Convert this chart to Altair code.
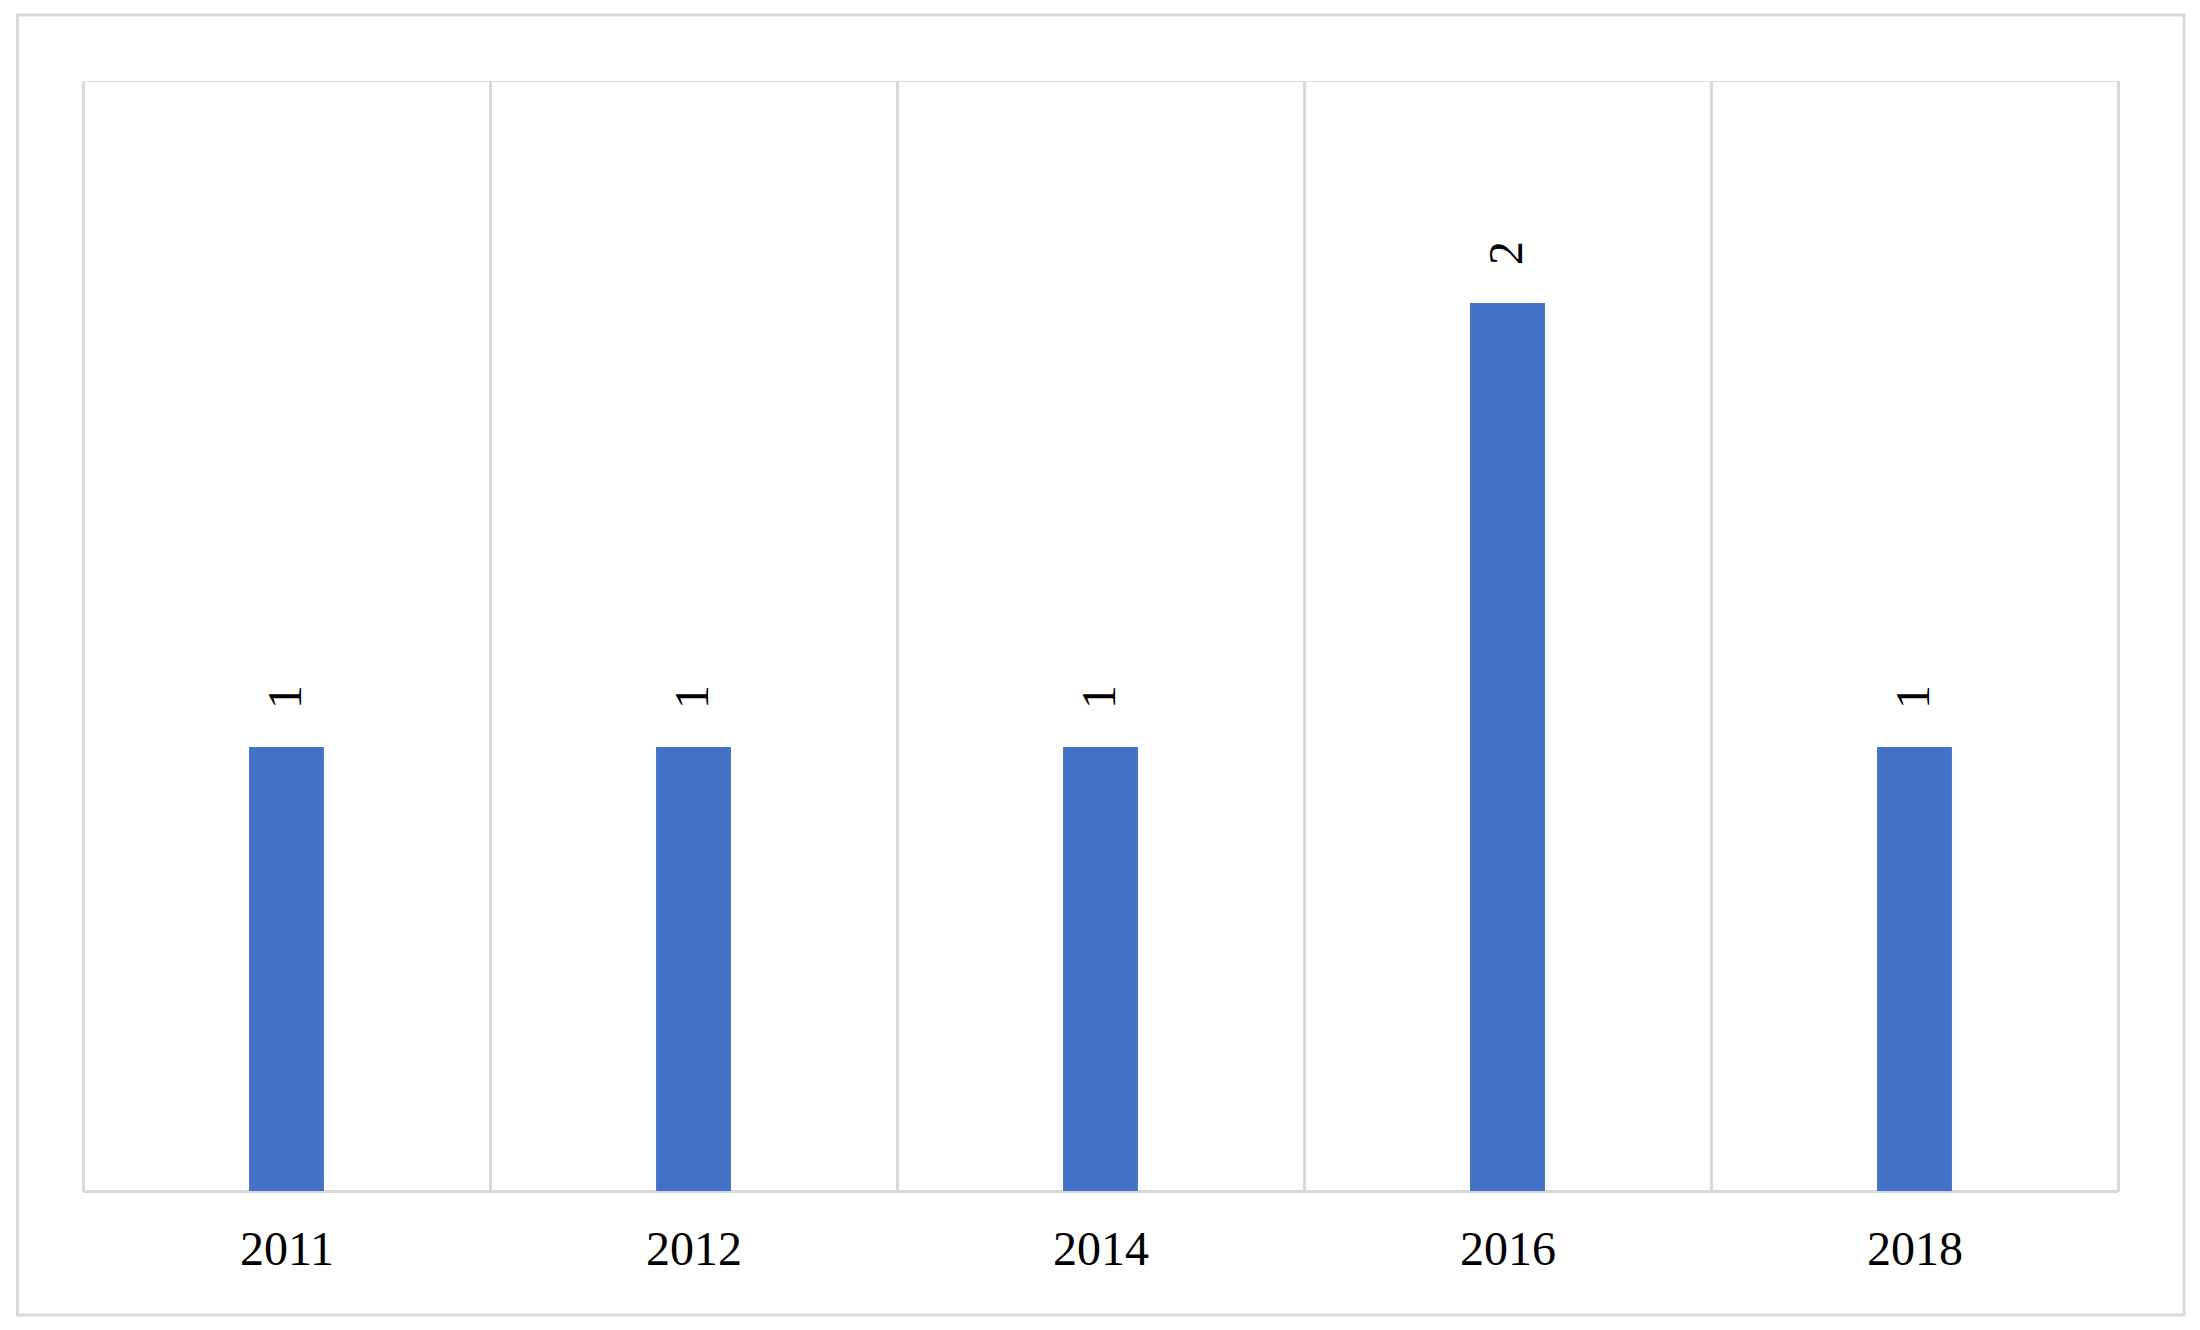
import altair as alt
import pandas as pd

years = ["2011", "2012", "2014", "2016", "2018"]
counts = [1, 1, 1, 2, 1]

df = pd.DataFrame({"year": years, "count": counts})

W, H = 2035, 1110
FONT = "Liberation Serif"
GRID = "#d9d9d9"

x_enc = alt.X(
    "year:N",
    sort=years,
    scale=alt.Scale(paddingInner=0, paddingOuter=0),
    axis=alt.Axis(
        title=None,
        grid=True,
        gridColor=GRID,
        gridWidth=3,
        tickBand="extent",
        ticks=False,
        tickSize=0,
        domainColor=GRID,
        domainWidth=3,
        labelFont=FONT,
        labelFontSize=48,
        labelColor="#000000",
        labelAngle=0,
        labelBaseline="alphabetic",
        labelPadding=73,
    ),
)
y_enc = alt.Y("count:Q", scale=alt.Scale(domain=[0, 2.5], nice=False, zero=True), axis=None)

bars = alt.Chart(df).mark_bar(
    color="#4472c4", width=alt.RelativeBandSize(0.184)
).encode(x=x_enc, y=y_enc)

labels = alt.Chart(df).mark_text(
    angle=270, align="left", baseline="middle", dx=38,
    font=FONT, fontSize=48, color="#000000",
).encode(x=alt.X("year:N", sort=years), y=alt.Y("count:Q"), text="count:Q")

frame = alt.Chart(alt.Data(values=[{"f": 1}])).mark_rect(
    fill=None, stroke=GRID, strokeWidth=3
).encode(
    x=alt.value(-65.5), x2=alt.value(2101), y=alt.value(-66), y2=alt.value(1234)
)

chart = alt.layer(bars, labels, frame).properties(
    width=W, height=H,
    autosize=alt.AutoSizeParams(type="none"),
    padding={"left": 75, "top": 73, "right": 70, "bottom": 130},
).configure_view(stroke=None).configure(background="white")

chart.save("out.html", embed_options={"renderer": "svg", "actions": False})
